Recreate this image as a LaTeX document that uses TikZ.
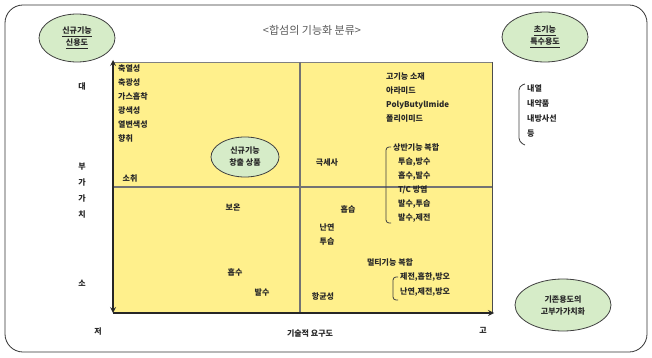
\documentclass[tikz,border=0pt]{standalone}
\usepackage{fontspec}
\setmainfont{Noto Sans CJK KR}
\usetikzlibrary{shapes.geometric}
\definecolor{boxyellow}{RGB}{255,240,140}
\definecolor{tagfill}{RGB}{214,236,200}
\definecolor{inktext}{RGB}{40,40,40}
\begin{document}
\begin{tikzpicture}[x=1pt,y=-1pt,>=stealth,
    txt/.style={font=\fontsize{8}{14}\selectfont\bfseries,text=inktext,inner sep=0pt,align=left},
    tag/.style={ellipse,draw=black!75,fill=tagfill,line width=0.8pt,inner sep=0pt,align=center,font=\fontsize{8}{12}\selectfont\bfseries,text=inktext},
    axis/.style={line width=1.6pt,black!85}]
    \useasboundingbox (0,0) rectangle (652,358);
    % frame and field
    \draw[rounded corners=18,black!80,line width=0.8pt] (5,5) rectangle (647,352);
    \fill[boxyellow] (113,62) rectangle (492,313);
    \draw[black!50,line width=0.6pt] (113,62) -- (492,62);
    \draw[black!70,line width=1pt] (492,62) -- (492,313);
    \draw[black!55,line width=1.2pt] (300,62) -- (300,313);
    \draw[black!55,line width=1.2pt] (113,187) -- (492,187);
    % axes
    \coordinate (ytop) at (113,60);
    \coordinate (orig) at (113,313);
    \coordinate (xend) at (494,313);
    \draw[axis,<->] (ytop) -- (orig);
    \draw[axis,->] (orig) -- (xend);
    % title and tags
    \node[font=\fontsize{11}{13}\selectfont,text=black!65] (title) at (312,30) {<합섬의 기능화 분류>};
    \node[tag,minimum width=76,minimum height=48] (newuse) at (77,38) {\underline{신규기능}\\\underline{신용도}};
    \node[tag,minimum width=86,minimum height=50] (special) at (545,37) {\underline{초기능}\\\underline{특수용도}};
    \node[tag,minimum width=96,minimum height=52] (addval) at (563,305) {기존용도의\\고부가가치화};
    \node[tag,minimum width=68,minimum height=40] (create) at (245,157) {신규기능\\창출 상품};
    % axis labels
    \node[txt] (big) at (82,87) {대};
    \node[txt,align=center,font=\fontsize{8}{16}\selectfont\bfseries] (value) at (82,191) {부\\가\\가\\치};
    \node[txt] (small) at (82,283) {소};
    \node[txt] (low) at (98,332) {저};
    \node[txt] (high) at (483,330) {고};
    \node[txt] (demand) at (310,334) {기술적 요구도};
    % upper left
    \node[txt,anchor=north west] (ullist) at (118,65) {축열성\\축광성\\가스흡착\\광색성\\열변색성\\향취};
    \node[txt] (deodor) at (130,178) {소취};
    % upper right
    \node[txt,anchor=north west] (urlist) at (386,73) {고기능 소재\\아라미드\\PolyButylImide\\폴리이미드};
    \node[txt] (micro) at (327,163) {극세사};
    \node[txt,anchor=north west] (oppose) at (393,143) {상반기능 복합\\\hspace{5pt}투습,방수\\\hspace{5pt}흡수,발수\\\hspace{5pt}T/C 방염\\\hspace{5pt}발수,투습\\\hspace{5pt}발수,제전};
    \draw[black!75,line width=0.8pt,rounded corners=3] (391,147) -- (386,147) -- (386,223) -- (391,223);
    % lower left
    \node[txt] (warm) at (233,208) {보온};
    \node[txt] (absorb) at (235,272) {흡수};
    \node[txt] (repel) at (262,293) {발수};
    % lower right
    \node[txt] (moist) at (348,209) {흡습};
    \node[txt,align=center] (flame) at (327,235) {난연\\투습};
    \node[txt] (multi) at (390,262) {멀티기능 복합};
    \node[txt,anchor=north west,font=\fontsize{8}{15}\selectfont\bfseries] (multilist) at (400,273) {제전,흡한,방오\\난연,제전,방오};
    \draw[black!75,line width=0.8pt,rounded corners=3] (398,277) -- (393,277) -- (393,300) -- (398,300);
    \node[txt] (antibac) at (323,296) {항균성};
    % right side
    \node[txt,anchor=north west,font=\fontsize{8}{15}\selectfont\bfseries] (resist) at (527,85) {내열\\내약품\\내방사선\\등};
    \draw[black!75,line width=0.8pt,rounded corners=4] (525,84) -- (519,86) -- (519,142) -- (525,145);
\end{tikzpicture}
\end{document}
